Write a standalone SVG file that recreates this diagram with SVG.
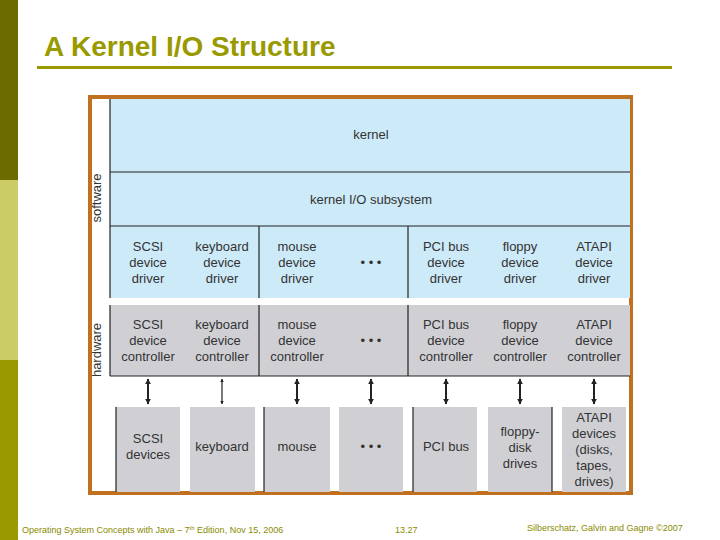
<svg xmlns="http://www.w3.org/2000/svg" width="720" height="540" viewBox="0 0 720 540">
<style>
.t{font-family:"Liberation Sans",Arial,sans-serif;font-size:13px;fill:#333;text-anchor:middle}
.f{font-family:"Liberation Sans",Arial,sans-serif;font-size:9px;fill:#8a8a00}
.ln{stroke:#222;stroke-width:1.2}
.ar{stroke:#222;stroke-width:2;marker-start:url(#h);marker-end:url(#h)}
.dev{fill:#d0d0d4}
</style>
<defs><marker id="h" viewBox="0 0 10 10" refX="9" refY="5" markerWidth="3" markerHeight="3" orient="auto-start-reverse"><path d="M0 0L10 5L0 10z" fill="#222"/></marker></defs>
<rect width="720" height="540" fill="#fff"/>
<rect x="0" y="0" width="18" height="180" fill="#6b6b00"/>
<rect x="0" y="180" width="18" height="180" fill="#cccc66"/>
<rect x="0" y="360" width="18" height="180" fill="#999900"/>
<text x="44" y="56" font-family="Liberation Sans,Arial,sans-serif" font-size="28" font-weight="bold" fill="#999900">A Kernel I/O Structure</text>
<rect x="37" y="66" width="635" height="3" fill="#999900"/>
<rect x="90" y="97" width="541" height="396" fill="#fff" stroke="#c0701e" stroke-width="4"/>
<g id="software">
<rect x="110" y="99" width="520" height="199" fill="#cdeaf8"/>
<line class="ln" x1="110" y1="99" x2="110" y2="298"/>
<line class="ln" x1="110" y1="172" x2="630" y2="172"/>
<line class="ln" x1="110" y1="226" x2="630" y2="226"/>
<line class="ln" x1="259" y1="226" x2="259" y2="298"/>
<line class="ln" x1="408" y1="226" x2="408" y2="298"/>
<text class="f" x="0" y="0" transform="translate(101 198) rotate(-90)" style="font-size:13px;fill:#333;text-anchor:middle">software</text>
<text class="t" x="371" y="139">kernel</text>
<text class="t" x="371" y="204">kernel I/O subsystem</text>
</g>
<g id="drivers" class="t">
<text x="148" y="251">SCSI</text><text x="148" y="267">device</text><text x="148" y="283">driver</text>
<text x="222" y="251">keyboard</text><text x="222" y="267">device</text><text x="222" y="283">driver</text>
<text x="297" y="251">mouse</text><text x="297" y="267">device</text><text x="297" y="283">driver</text>
<text x="371" y="267">• • •</text>
<text x="446" y="251">PCI bus</text><text x="446" y="267">device</text><text x="446" y="283">driver</text>
<text x="520" y="251">floppy</text><text x="520" y="267">device</text><text x="520" y="283">driver</text>
<text x="594" y="251">ATAPI</text><text x="594" y="267">device</text><text x="594" y="283">driver</text>
</g>
<g id="controllers">
<rect x="110" y="305" width="520" height="71" fill="#d0d0d4"/>
<line class="ln" x1="110" y1="305" x2="110" y2="376"/>
<line class="ln" x1="110" y1="376" x2="630" y2="376"/>
<line class="ln" x1="259" y1="305" x2="259" y2="376"/>
<line class="ln" x1="408" y1="305" x2="408" y2="376"/>
<text x="0" y="0" transform="translate(101 350) rotate(-90)" class="t">hardware</text>
<g class="t">
<text x="148" y="329">SCSI</text><text x="148" y="345">device</text><text x="148" y="361">controller</text>
<text x="222" y="329">keyboard</text><text x="222" y="345">device</text><text x="222" y="361">controller</text>
<text x="297" y="329">mouse</text><text x="297" y="345">device</text><text x="297" y="361">controller</text>
<text x="371" y="345">• • •</text>
<text x="446" y="329">PCI bus</text><text x="446" y="345">device</text><text x="446" y="361">controller</text>
<text x="520" y="329">floppy</text><text x="520" y="345">device</text><text x="520" y="361">controller</text>
<text x="594" y="329">ATAPI</text><text x="594" y="345">device</text><text x="594" y="361">controller</text>
</g>
</g>
<g id="devices">
<rect class="dev" x="116" y="407" width="64" height="85"/>
<rect class="dev" x="190" y="407" width="65" height="85"/>
<rect class="dev" x="264" y="407" width="66" height="85"/>
<rect class="dev" x="339" y="407" width="64" height="85"/>
<rect class="dev" x="413" y="407" width="64" height="85"/>
<rect class="dev" x="488" y="407" width="64" height="85"/>
<rect class="dev" x="562" y="407" width="64" height="85"/>
<line class="ln" x1="116" y1="407" x2="116" y2="492"/>
<line class="ln" x1="264" y1="407" x2="264" y2="492"/>
<line class="ln" x1="413" y1="407" x2="413" y2="492"/>
<line class="ln" x1="552" y1="407" x2="552" y2="492"/>
<g class="t">
<text x="148" y="443">SCSI</text><text x="148" y="459">devices</text>
<text x="222" y="451">keyboard</text>
<text x="297" y="451">mouse</text>
<text x="371" y="451">• • •</text>
<text x="446" y="451">PCI bus</text>
<text x="520" y="436">floppy-</text><text x="520" y="452">disk</text><text x="520" y="468">drives</text>
<text x="594" y="422">ATAPI</text><text x="594" y="438">devices</text><text x="594" y="454">(disks,</text><text x="594" y="470">tapes,</text><text x="594" y="486">drives)</text>
</g>
</g>
<g id="connectors">
<line class="ar" x1="148" y1="379" x2="148" y2="404"/>
<line class="ar" x1="222" y1="379" x2="222" y2="404" style="stroke-width:1.2"/>
<line class="ar" x1="297" y1="379" x2="297" y2="404"/>
<line class="ar" x1="371" y1="379" x2="371" y2="404"/>
<line class="ar" x1="446" y1="379" x2="446" y2="404"/>
<line class="ar" x1="520" y1="379" x2="520" y2="404"/>
<line class="ar" x1="594" y1="379" x2="594" y2="404"/>
</g>
<text class="f" x="22" y="533">Operating System Concepts with Java – 7<tspan font-size="6" dy="-3">th</tspan><tspan dy="3"> Edition, Nov 15, 2006</tspan></text>
<text class="f" x="395" y="533">13.27</text>
<text class="f" x="527" y="531">Silberschatz, Galvin and Gagne ©2007</text>
</svg>
